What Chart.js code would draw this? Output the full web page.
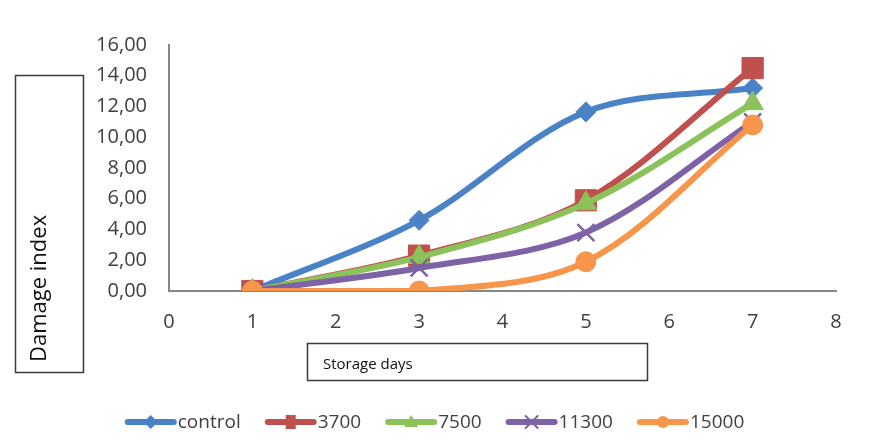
<!DOCTYPE html>
<html>
<head>
<meta charset="utf-8">
<title>Damage index by storage days</title>
<script src="https://cdn.jsdelivr.net/npm/chart.js@4.4.1/dist/chart.umd.min.js"></script>
<style>
  html, body { margin: 0; padding: 0; background: #ffffff; }
  #wrap { width: 873px; height: 444px; }
</style>
</head>
<body>
<div id="wrap"><canvas id="chart" width="873" height="444"></canvas></div>
<script>
// Storage days on which the damage index was measured
const storageDays = [1, 3, 5, 7];

// Series names (control and dose levels)
const seriesNames = ['control', '3700', '7500', '11300', '15000'];

// Damage index values per series
const controlValues = [0.00, 4.60, 11.65, 13.20];
const dose3700Values = [0.00, 2.30, 5.90, 14.50];
const dose7500Values = [0.00, 2.20, 5.70, 12.20];
const dose11300Values = [0.00, 1.50, 3.80, 11.00];
const dose15000Values = [0.00, 0.00, 1.90, 10.80];

// Axis ranges and tick labels
const xTickValues = [0, 1, 2, 3, 4, 5, 6, 7, 8];
const yTickValues = [0, 2, 4, 6, 8, 10, 12, 14, 16];
const yTickLabels = ['0,00', '2,00', '4,00', '6,00', '8,00', '10,00', '12,00', '14,00', '16,00'];

const xTitle = 'Storage days';
const yTitle = 'Damage index';

const seriesValues = [controlValues, dose3700Values, dose7500Values, dose11300Values, dose15000Values];
const seriesColors = ['#4a82c6', '#c0504d', '#8cc25a', '#7d62a6', '#f7964a'];
const seriesMarkers = ['rectRot', 'rect', 'triangle', 'crossRot', 'circle'];
const markerRadius = [10, 15, 12.5, 12, 10];

const FONT = "'Open Sans', 'Liberation Sans', sans-serif";
const TEXT_COLOR = '#404040';
const AXIS_COLOR = '#868686';

const datasets = seriesNames.map((name, i) => ({
  label: name,
  data: storageDays.map((d, k) => ({ x: d, y: seriesValues[i][k] })),
  borderColor: seriesColors[i],
  backgroundColor: seriesColors[i],
  pointBackgroundColor: seriesColors[i],
  pointBorderColor: seriesColors[i],
  pointStyle: seriesMarkers[i],
  pointRadius: markerRadius[i],
  pointBorderWidth: seriesMarkers[i] === 'crossRot' ? 2.5 : 1,
  borderWidth: 6,
  tension: 0.33,
  fill: false,
  order: seriesNames.length - i
}));

// Small marker used in the legend glyphs
function legendMarker(ctx, style, x, y, color) {
  ctx.save();
  ctx.fillStyle = color;
  ctx.strokeStyle = color;
  ctx.beginPath();
  if (style === 'rectRot') {
    const r = 7;
    ctx.moveTo(x, y - r); ctx.lineTo(x + r, y); ctx.lineTo(x, y + r); ctx.lineTo(x - r, y);
    ctx.closePath(); ctx.fill();
  } else if (style === 'rect') {
    ctx.rect(x - 5, y - 7, 10, 14); ctx.fill();
  } else if (style === 'triangle') {
    ctx.moveTo(x, y - 7); ctx.lineTo(x + 7, y + 5); ctx.lineTo(x - 7, y + 5);
    ctx.closePath(); ctx.fill();
  } else if (style === 'crossRot') {
    ctx.lineWidth = 2;
    const r = 6;
    ctx.moveTo(x - r, y - r); ctx.lineTo(x + r, y + r);
    ctx.moveTo(x + r, y - r); ctx.lineTo(x - r, y + r);
    ctx.stroke();
  } else {
    ctx.arc(x, y, 6, 0, Math.PI * 2); ctx.fill();
  }
  ctx.restore();
}

// Boxed axis titles and the legend row under the chart
const annotationsPlugin = {
  id: 'boxedTitlesAndLegend',
  afterDraw(chart) {
    const ctx = chart.ctx;
    ctx.save();

    // Y title box (rotated text)
    ctx.strokeStyle = '#3a3a3a';
    ctx.lineWidth = 1.5;
    ctx.strokeRect(15.5, 75.5, 68, 297);
    ctx.save();
    ctx.translate(40, 362);
    ctx.rotate(-Math.PI / 2);
    ctx.fillStyle = '#111111';
    ctx.font = '22px ' + FONT;
    ctx.textAlign = 'left';
    ctx.textBaseline = 'middle';
    ctx.fillText(yTitle, 0, 0);
    ctx.restore();

    // X title box
    ctx.strokeRect(307.5, 343.5, 340, 37);
    ctx.fillStyle = '#111111';
    ctx.font = '15px ' + FONT;
    ctx.textAlign = 'left';
    ctx.textBaseline = 'middle';
    ctx.fillText(xTitle, 323, 365);

    // Legend
    ctx.font = '19px ' + FONT;
    const glyphW = 52, textGap = 1, itemGap = 24;
    const widths = seriesNames.map(n => glyphW + textGap + ctx.measureText(n).width);
    const total = widths.reduce((a, b) => a + b, 0) + itemGap * (seriesNames.length - 1);
    let x = (chart.width - total) / 2 - 2;
    const y = 422;
    seriesNames.forEach((name, i) => {
      ctx.strokeStyle = seriesColors[i];
      ctx.lineWidth = 6;
      ctx.lineCap = 'round';
      ctx.beginPath();
      ctx.moveTo(x + 3, y);
      ctx.lineTo(x + glyphW - 3, y);
      ctx.stroke();
      legendMarker(ctx, seriesMarkers[i], x + glyphW / 2, y, seriesColors[i]);
      ctx.fillStyle = TEXT_COLOR;
      ctx.textAlign = 'left';
      ctx.textBaseline = 'middle';
      ctx.fillText(name, x + glyphW + textGap, y + 1);
      x += widths[i] + itemGap;
    });
    ctx.restore();
  }
};

new Chart(document.getElementById('chart'), {
  type: 'line',
  data: { datasets },
  plugins: [annotationsPlugin],
  options: {
    responsive: false,
    animation: false,
    devicePixelRatio: 1,
    layout: { padding: { top: 45, right: 37, bottom: 0, left: 0 } },
    plugins: {
      legend: { display: false },
      tooltip: { enabled: false },
      title: { display: false }
    },
    scales: {
      x: {
        type: 'linear',
        min: xTickValues[0],
        max: xTickValues[xTickValues.length - 1],
        afterBuildTicks(scale) { scale.ticks = xTickValues.map(v => ({ value: v })); },
        afterFit(scale) { scale.height = 153; },
        ticks: {
          color: TEXT_COLOR,
          font: { family: FONT, size: 20 },
          padding: 19,
          maxRotation: 0,
          callback: v => String(v)
        },
        grid: { display: true, drawOnChartArea: false, drawTicks: false, color: 'rgba(0,0,0,0)' },
        border: { display: true, color: AXIS_COLOR, width: 2 }
      },
      y: {
        type: 'linear',
        min: yTickValues[0],
        max: yTickValues[yTickValues.length - 1],
        afterBuildTicks(scale) { scale.ticks = yTickValues.map(v => ({ value: v })); },
        afterFit(scale) { scale.width = 169; },
        ticks: {
          color: TEXT_COLOR,
          font: { family: FONT, size: 20 },
          padding: 22,
          callback: v => yTickLabels[yTickValues.indexOf(v)]
        },
        grid: { display: true, drawOnChartArea: false, drawTicks: false, color: 'rgba(0,0,0,0)' },
        border: { display: true, color: AXIS_COLOR, width: 2 }
      }
    }
  }
});
</script>
</body>
</html>
